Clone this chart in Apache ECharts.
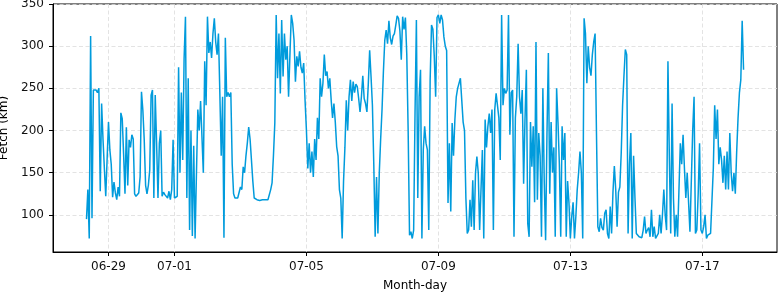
<!DOCTYPE html>
<html><head><meta charset="utf-8">
<script src="https://cdn.jsdelivr.net/npm/echarts@6/dist/echarts.min.js"></script>
<style>html,body{margin:0;padding:0;background:#fff}#c{width:779px;height:293px}</style>
</head><body><div id="c"></div>
<script>
// hourly readings, first one at 06-28 08:00
const startTime = Date.UTC(2023, 5, 28, 8, 0);
const fetchA = [95,130,72,312,96,248,246,248,245,250,128,232,190,155,122,120,210,177,160,121,139,126,118,133,122,221,214,172,125,204,135,189,180,195,190,125,122,120,126,145,246,224,189,135,125,135,153,242,248,120,242,185,120,185,200,122,127,124,123];
const fetchB = [120,128,118,130,189,120,118,122,275,150,245,165,285,335,120,262,82,200,75,182,72,150,225,200,235,236,150,282,230,335,292,305,286,315,333,305,290,315,245,170,240,73,310,240,245,240,245,160,125,120,118,120,122,133,130,157,150,170,185,204,190];
const fetchC = [165,140,120,119,118,120,117,119,118,116,118,117,118,120,130,138,170,209,337,262,315,244,331,264,315,284,300,240,290,337,327,307,258,288,276,294,275,268,280,236,200,155,185,150,175,145,190,165,215,190,262,240,256,290,265,270,250,262,236,215];
const fetchD = [232,210,181,170,130,120,72,140,180,236,200,240,260,235,258,245,255,252,238,222,240,265,238,232,222,255,295,264,230,160,74,145,78,150,190,225,270,307,319,303,330,310,302,312,315,325,336,333,318,284,335,320,334,290,200,76,80,72,82,220];
const fetchE = [331,120,240,272,72,177,205,185,177,82,260,325,320,288,240,334,337,327,337,331,311,300,295,114,185,104,209,170,213,240,250,252,262,236,210,200,120,78,82,118,86,141,82,150,169,150,82,130,177,72,213,180,205,220,197,225,82,225,244,245];
const fetchF = [215,165,337,230,250,244,248,337,195,245,248,74,215,240,303,240,220,248,137,213,272,90,74,210,157,205,115,305,118,197,170,74,250,140,70,197,292,125,210,150,180,74,250,210,160,74,205,165,197,74,140,114,72,98,115,72,98,130,150,175,150];
const fetchG = [72,333,315,256,300,275,265,290,305,315,197,86,80,96,85,82,102,106,78,72,110,78,127,158,130,86,127,133,173,230,265,296,290,78,160,197,72,170,120,78,78,74,76,73,82,98,78,82,85,74,106,74,86,72,75,78,100,78,100,130];
const fetchH = [100,82,282,170,78,232,120,74,100,74,74,185,160,195,155,120,150,150,80,78,200,240,78,82,125,185,82,78,86,100,72,76,74,78,80,155,230,190,225,160,180,165,138,170,130,175,130,197,150,128,150,125,175,215,245,260,330,272];
const xTickDates = ['2023-06-29','2023-07-01','2023-07-05','2023-07-09','2023-07-13','2023-07-17'];
const yTicks = [100,150,200,250,300,350];

const values = [].concat(fetchA, fetchB, fetchC, fetchD, fetchE, fetchF, fetchG, fetchH);
const seriesData = values.map((v, i) => [startTime + i * 3600000, v]);
const xTicks = xTickDates.map(s => Date.parse(s + 'T00:00:00Z'));
const pad = n => (n < 10 ? '0' : '') + n;
const font = 'DejaVu Sans';

const chart = echarts.init(document.getElementById('c'), null, {renderer: 'canvas'});
chart.setOption({
  animation: false,
  backgroundColor: '#fff',
  grid: {left: 53, right: 2, top: 4, bottom: 41, show: true, borderColor: '#000', borderWidth: 1,
         containLabel: false, outerBoundsMode: 'none'},
  xAxis: {
    type: 'value',
    min: Date.UTC(2023, 5, 27, 7, 38),
    max: Date.UTC(2023, 6, 19, 6, 20),
    name: 'Month-day', nameLocation: 'middle', nameGap: 28,
    nameTextStyle: {fontFamily: font, fontSize: 12, color: '#000'},
    axisLine: {show: true, onZero: false, lineStyle: {color: '#000', width: 1}},
    axisTick: {show: true, inside: false, length: 4, lineStyle: {color: '#000', width: 1}, customValues: xTicks},
    axisLabel: {customValues: xTicks, fontFamily: font, fontSize: 12, color: '#111', margin: 9,
      formatter: v => { const d = new Date(v); return pad(d.getUTCMonth() + 1) + '-' + pad(d.getUTCDate()); }},
    splitLine: {show: true, lineStyle: {color: '#dcdcdc', width: 0.8, type: [4, 2.5]}}
  },
  yAxis: {
    type: 'value', min: 56, max: 350,
    name: 'Fetch (km)', nameLocation: 'middle', nameGap: 40,
    nameTextStyle: {fontFamily: font, fontSize: 12, color: '#000'},
    axisLine: {show: true, onZero: false, lineStyle: {color: '#000', width: 1}},
    axisTick: {show: true, inside: false, length: 4, lineStyle: {color: '#000', width: 1}, customValues: yTicks},
    axisLabel: {customValues: yTicks, fontFamily: font, fontSize: 12, color: '#111', margin: 9},
    splitLine: {show: true, lineStyle: {color: '#dcdcdc', width: 0.8, type: [4, 2.5]}}
  },
  series: [{
    type: 'line', data: seriesData, showSymbol: false, symbol: 'none',
    lineStyle: {color: '#009bdc', width: 1.5}, silent: true
  }]
});
</script></body></html>
